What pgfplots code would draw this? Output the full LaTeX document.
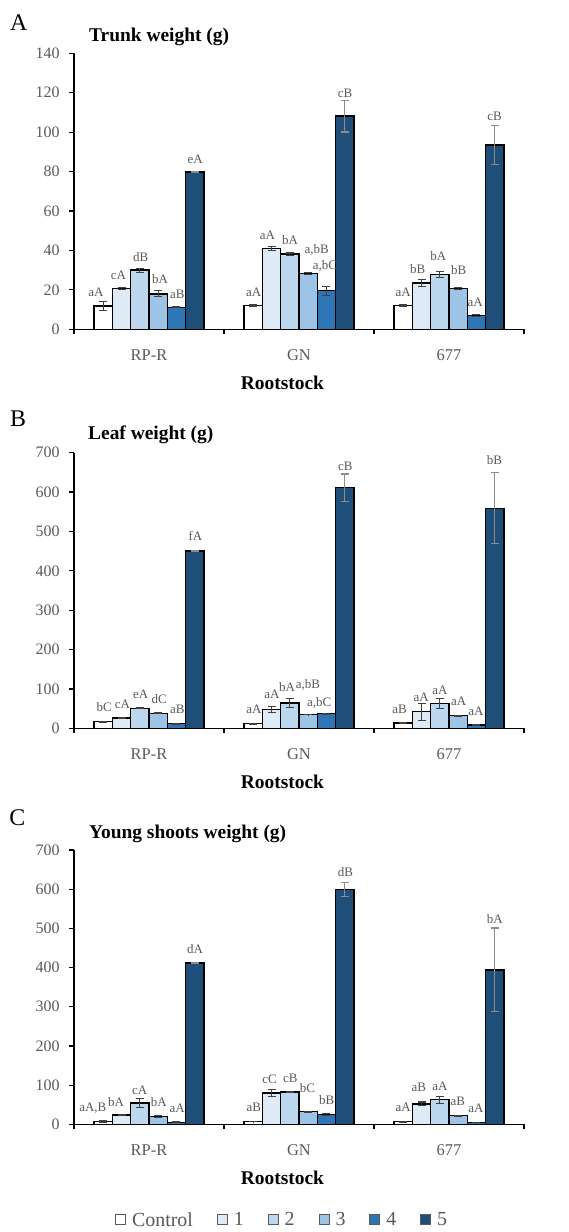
\documentclass[border=0pt]{standalone}
\usepackage{fontspec}
\setmainfont{Liberation Serif}
\usepackage{pgfplots}
\usepackage{pgfplotstable}
\pgfplotsset{compat=1.18}
\definecolor{c0}{HTML}{FFFFFF}
\definecolor{c1}{HTML}{DEEBF7}
\definecolor{c2}{HTML}{BDD7EE}
\definecolor{c3}{HTML}{9DC3E6}
\definecolor{c4}{HTML}{2E75B6}
\definecolor{c5}{HTML}{1F4E79}
\definecolor{tgray}{HTML}{595959}
\definecolor{egray}{HTML}{404040}
\definecolor{lgray}{HTML}{8C8C8C}

% ---------- Panel A: trunk weight ----------
\pgfplotstableread{
g y0 e0 y1 e1 y2 e2 y3 e3 y4 e4 y5 e5
0 11.8 2.2 20.7 0.7 30.0 1.0 18.0 1.5 11.2 0.3 79.7 0.3
1 12.1 0.3 41.1 1.0 38.1 0.6 28.3 0.3 19.6 2.3 108.1 8.0
2 12.1 0.3 23.4 1.8 27.7 1.5 20.7 0.3 6.9 0.4 93.4 10.0
}\dataA
\pgfplotstableread{
lx ly lab
-0.353 16.5 aA
-0.203 25.4 cA
-0.055 34.3 dB
0.073 23.0 bA
0.189 15.7 aB
0.307 84.2 eA
0.697 16.5 aA
0.790 45.3 aA
0.940 43.1 bA
1.118 38.6 a,bB
1.173 30.1 a,bC
1.307 117.7 cB
1.695 16.5 aA
1.792 28.4 bB
1.929 34.7 bA
2.065 27.9 bB
2.175 11.5 aA
2.303 105.8 cB
}\labA

% ---------- Panel B: leaf weight ----------
\pgfplotstableread{
g y0 e0 y1 e1 y2 e2 y3 e3 y4 e4 y5 e5
0 17 1 26 1 51 1 38 1.5 12 1 450 1
1 12 1 48 8.5 64 12 35 1 37 1 611 35
2 13 1 42 22 63 13 32 1 8 1 559 90
}\dataB
\pgfplotstableread{
lx ly lab
-0.299 42.2 bC
-0.177 50.8 cA
-0.055 76.2 eA
0.068 63.5 dC
0.189 38.1 aB
0.309 476.5 fA
0.699 38.1 aA
0.819 76.2 aA
0.921 93.0 bA
1.059 101.6 a,bB
1.135 56.6 a,bC
1.309 654.3 cB
1.671 38.1 aB
1.815 67.6 aA
1.940 87.1 aA
2.065 59.2 aA
2.179 33.8 aA
2.303 671.3 bB
}\labB

% ---------- Panel C: young shoots weight ----------
\pgfplotstableread{
g y0 e0 y1 e1 y2 e2 y3 e3 y4 e4 y5 e5
0 7 1.5 24 2 54 12 20 1.5 5 1 412 1
1 7 0.5 80 8 82 1.5 32 1 25 3 599 17
2 7 1 52 5 63 9 22 1 4 0.5 394 107
}\dataC
\pgfplotstableread{
lx ly lab
-0.375 32.2 {aA,B}
-0.219 46.7 bA
-0.063 77.3 cA
0.065 46.7 bA
0.187 29.6 aA
0.307 436.3 dA
0.698 32.2 aB
0.803 104.6 cC
0.942 107.2 cB
1.057 80.6 bC
1.185 51.0 bB
1.310 633.6 dB
1.695 32.2 aA
1.799 83.2 aB
1.940 87.5 aA
2.059 49.2 aB
2.179 29.6 aA
2.305 512.9 bA
}\labC

\pgfplotsset{
  panel/.style={
    scale only axis, width=450bp, height=275.5bp, anchor=south west,
    xmin=-0.5, xmax=2.5, ymin=0,
    axis x line*=bottom, axis y line*=left,
    axis line style={line width=1.2bp, black, -},
    tick align=outside, major tick length=5bp,
    tick style={line width=1.2bp, black},
    xtick={0,1,2}, xticklabels={RP-R,GN,677},
    xtick style={draw=none},
    extra x ticks={-0.5,0.5,1.5,2.5}, extra x tick labels={},
    extra x tick style={xtick style={draw=black}},
    /pgf/number format/assume math mode=true,
    yticklabel style={font=\fontsize{16}{16}\selectfont, text=tgray, xshift=-6bp},
    xticklabel style={font=\fontsize{16.5}{16.5}\selectfont, text=tgray, anchor=base, yshift=-26bp},
    xlabel={Rootstock},
    xlabel style={at={(axis description cs:0.4633,0)}, anchor=base, yshift=-60bp,
                  font=\bfseries\fontsize{19.5}{20}\selectfont, text=black},
  },
  bars/.style n args={2}{
    ybar, bar width=18.33bp, bar shift=0pt, fill=#1, draw=black, line width=1.4bp,
    legend image code/.code={\draw[##1, line width=0.9bp, draw=tgray] (0bp,-4bp) rectangle (10bp,6bp);},
    error bars/.cd, y dir=both, y explicit, error mark=-,
    error bar style={line width=1.1bp, color=#2},
    error mark options={rotate=90, line width=1.1bp, color=#2, mark size=4bp},
  },
  labs/.style={
    draw=none, mark=none, forget plot, nodes near coords, point meta=explicit symbolic,
    nodes near coords style={anchor=base, inner sep=0pt, font=\fontsize{13}{13}\selectfont, text=tgray},
  },
}

\begin{document}
\begin{tikzpicture}
\useasboundingbox (0,0) rectangle (569bp,-1232bp);

% Panel A
\begin{axis}[panel, at={(74bp,-329.3bp)}, height=276bp, ymax=140, ytick={0,20,...,140}]
\addplot[bars={c0}{egray}] table[x expr=\thisrow{g}-0.3056, y=y0, y error=e0]{\dataA};
\addplot[bars={c1}{egray}] table[x expr=\thisrow{g}-0.1833, y=y1, y error=e1]{\dataA};
\addplot[bars={c2}{egray}] table[x expr=\thisrow{g}-0.0611, y=y2, y error=e2]{\dataA};
\addplot[bars={c3}{egray}] table[x expr=\thisrow{g}+0.0611, y=y3, y error=e3]{\dataA};
\addplot[bars={c4}{egray}] table[x expr=\thisrow{g}+0.1833, y=y4, y error=e4]{\dataA};
\addplot[bars={c5}{lgray}] table[x expr=\thisrow{g}+0.3056, y=y5, y error=e5]{\dataA};
\addplot[labs] table[x=lx, y=ly, meta=lab]{\labA};
\end{axis}

% Panel B
\begin{axis}[panel, at={(74bp,-728.3bp)}, height=275.6bp, ymax=700, ytick={0,100,...,700}]
\addplot[bars={c0}{egray}] table[x expr=\thisrow{g}-0.3056, y=y0, y error=e0]{\dataB};
\addplot[bars={c1}{egray}] table[x expr=\thisrow{g}-0.1833, y=y1, y error=e1]{\dataB};
\addplot[bars={c2}{egray}] table[x expr=\thisrow{g}-0.0611, y=y2, y error=e2]{\dataB};
\addplot[bars={c3}{egray}] table[x expr=\thisrow{g}+0.0611, y=y3, y error=e3]{\dataB};
\addplot[bars={c4}{egray}] table[x expr=\thisrow{g}+0.1833, y=y4, y error=e4]{\dataB};
\addplot[bars={c5}{lgray}] table[x expr=\thisrow{g}+0.3056, y=y5, y error=e5]{\dataB};
\addplot[labs] table[x=lx, y=ly, meta=lab]{\labB};
\end{axis}

% Panel C
\begin{axis}[panel, at={(74bp,-1124.3bp)}, height=274.3bp, ymax=700, ytick={0,100,...,700},
  legend columns=6,
  legend style={at={(axis description cs:0.091,-0.349)}, anchor=west, draw=none, fill=none,
    inner sep=0pt, font=\fontsize{20}{20}\selectfont, text=tgray,
    /tikz/every odd column/.append style={column sep=4bp},
    /tikz/every even column/.append style={column sep=22bp}},
  legend entries={Control,1,2,3,4,5}]
\addplot[bars={c0}{egray}] table[x expr=\thisrow{g}-0.3056, y=y0, y error=e0]{\dataC};
\addplot[bars={c1}{egray}] table[x expr=\thisrow{g}-0.1833, y=y1, y error=e1]{\dataC};
\addplot[bars={c2}{egray}] table[x expr=\thisrow{g}-0.0611, y=y2, y error=e2]{\dataC};
\addplot[bars={c3}{egray}] table[x expr=\thisrow{g}+0.0611, y=y3, y error=e3]{\dataC};
\addplot[bars={c4}{egray}] table[x expr=\thisrow{g}+0.1833, y=y4, y error=e4]{\dataC};
\addplot[bars={c5}{lgray}] table[x expr=\thisrow{g}+0.3056, y=y5, y error=e5]{\dataC};
\addplot[labs] table[x=lx, y=ly, meta=lab]{\labC};
\end{axis}

% Panel letters and titles
\node[anchor=base west, inner sep=0pt, font=\fontsize{24}{24}\selectfont] at (10bp,-30bp) {A};
\node[anchor=base west, inner sep=0pt, font=\fontsize{24}{24}\selectfont] at (10bp,-426bp) {B};
\node[anchor=base west, inner sep=0pt, font=\fontsize{24}{24}\selectfont] at (9.3bp,-825bp) {C};
\node[anchor=base west, inner sep=0pt, font=\bfseries\fontsize{19.5}{20}\selectfont] at (89bp,-41.7bp) {Trunk weight (g)};
\node[anchor=base west, inner sep=0pt, font=\bfseries\fontsize{19.5}{20}\selectfont] at (88bp,-439.3bp) {Leaf weight (g)};
\node[anchor=base west, inner sep=0pt, font=\bfseries\fontsize{19.5}{20}\selectfont] at (89bp,-838.3bp) {Young shoots weight (g)};
\end{tikzpicture}
\end{document}
